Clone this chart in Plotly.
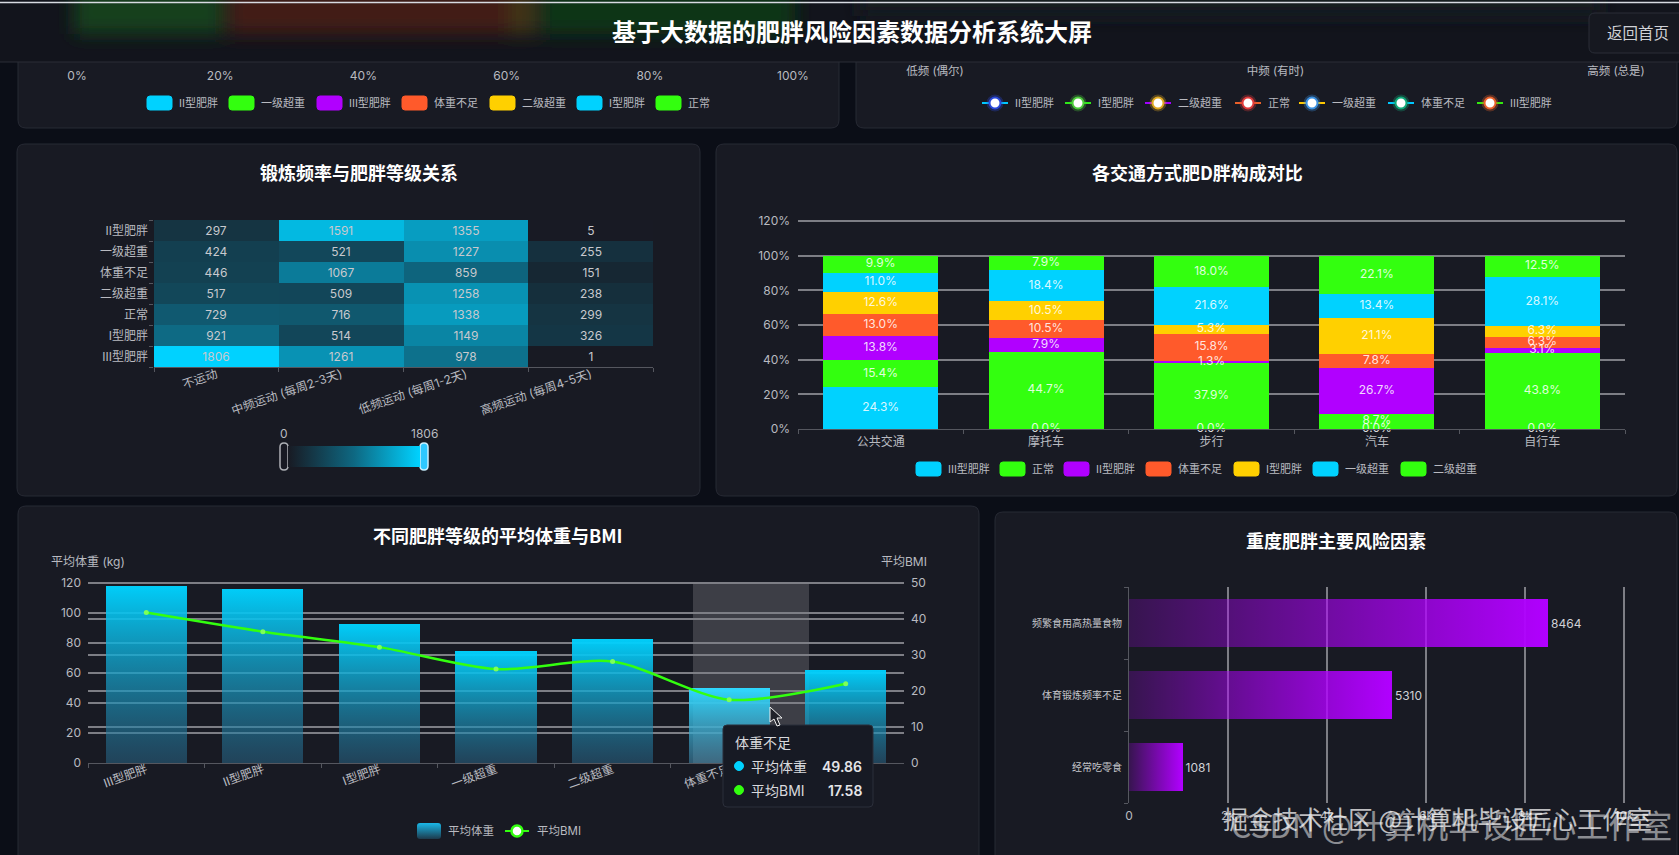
import base64

import plotly.graph_objects as go

W, H = 1679, 855
FONT = "Inter, 'Noto Sans CJK SC', sans-serif"
CJK = "'Noto Sans CJK SC', sans-serif"

PAGE_BG = "#0b0e17"
PANEL_BG = "#181a23"
PANEL_LINE = "#272a34"
TICK_TEXT = "#b9bac0"
GRID = "#7d7e85"
AXIS_LINE = "#55575f"
CYAN = "#00d2ff"
GREEN = "#33ff0f"
PURPLE = "#b100ff"
ORANGE = "#ff5a2b"
YELLOW = "#ffd000"

# 顶部两块只露出坐标轴和图例
SHARE_TICKS = [0, 20, 40, 60, 80, 100]
SHARE_LABELS = ["0%", "20%", "40%", "60%", "80%", "100%"]
SMOKE_FREQ = ["低频 (偶尔)", "中频 (有时)", "高频 (总是)"]
TOP_LEFT_LEGEND = ["II型肥胖", "一级超重", "III型肥胖", "体重不足", "二级超重", "I型肥胖", "正常"]
TOP_LEFT_COLORS = [CYAN, GREEN, PURPLE, ORANGE, YELLOW, CYAN, GREEN]
TOP_RIGHT_LEGEND = ["II型肥胖", "I型肥胖", "二级超重", "正常", "一级超重", "体重不足", "III型肥胖"]
TOP_RIGHT_LINES = ["#00c8ff", "#2fe81a", "#a000ff", "#e8602a", "#ffc800", "#00c8ff", "#33e80f"]
TOP_RIGHT_RINGS = ["#2a48d8", "#4ccc3a", "#e0a820", "#e03a3a", "#3a90e0", "#10a878", "#e8602a"]

# 锻炼频率热力图
EXERCISE = ["不运动", "中频运动 (每周2-3天)", "低频运动 (每周1-2天)", "高频运动 (每周4-5天)"]
LEVELS_HEAT = ["III型肥胖", "I型肥胖", "正常", "二级超重", "体重不足", "一级超重", "II型肥胖"]
HEAT_III = [1806, 1261, 978, 1]
HEAT_I = [921, 514, 1149, 326]
HEAT_NORMAL = [729, 716, 1338, 299]
HEAT_OVER2 = [517, 509, 1258, 238]
HEAT_UNDER = [446, 1067, 859, 151]
HEAT_OVER1 = [424, 521, 1227, 255]
HEAT_II = [297, 1591, 1355, 5]

# 交通方式堆叠柱
TRANSPORT = ["公共交通", "摩托车", "步行", "汽车", "自行车"]
STACK_NAMES = ["III型肥胖", "正常", "II型肥胖", "体重不足", "I型肥胖", "一级超重", "二级超重"]
STACK_COLORS = [CYAN, GREEN, PURPLE, ORANGE, YELLOW, CYAN, GREEN]
STACK_III = [24.3, 0.0, 0.0, 0.0, 0.0]
STACK_NORMAL = [15.4, 44.7, 37.9, 8.7, 43.8]
STACK_II = [13.8, 7.9, 1.3, 26.7, 3.1]
STACK_UNDER = [13.0, 10.5, 15.8, 7.8, 6.3]
STACK_I = [12.6, 10.5, 5.3, 21.1, 6.3]
STACK_OVER1 = [11.0, 18.4, 21.6, 13.4, 28.1]
STACK_OVER2 = [9.9, 7.9, 18.0, 22.1, 12.5]
STACK_SERIES = [STACK_III, STACK_NORMAL, STACK_II, STACK_UNDER, STACK_I, STACK_OVER1, STACK_OVER2]

# 平均体重与BMI
LEVELS_BMI = ["III型肥胖", "II型肥胖", "I型肥胖", "一级超重", "二级超重", "体重不足", "正常"]
AVG_WEIGHT = [117.8, 116.2, 92.5, 74.4, 82.4, 49.86, 61.8]
AVG_BMI = [41.8, 36.5, 32.2, 26.1, 28.2, 17.58, 22.0]

# 风险因素
RISK_NAMES = ["经常吃零食", "体育锻炼频率不足", "频繁食用高热量食物"]
RISK_VALUES = [1081, 5310, 8464]


def px_x(x):
    return x / W


def px_y(y):
    return 1 - y / H


def rounded(x0, y0, x1, y1, r, open_top=False):
    x = [px_x(v) for v in (x0, x0 + r, x1 - r, x1)]
    y = [px_y(v) for v in (y0, y0 + r, y1 - r, y1)]
    if open_top:
        return (
            f"M{x[0]},{y[0]} L{x[0]},{y[2]} Q{x[0]},{y[3]} {x[1]},{y[3]} L{x[2]},{y[3]} "
            f"Q{x[3]},{y[3]} {x[3]},{y[2]} L{x[3]},{y[0]}"
        )
    return (
        f"M{x[1]},{y[0]} L{x[2]},{y[0]} Q{x[3]},{y[0]} {x[3]},{y[1]} L{x[3]},{y[2]} "
        f"Q{x[3]},{y[3]} {x[2]},{y[3]} L{x[1]},{y[3]} Q{x[0]},{y[3]} {x[0]},{y[2]} "
        f"L{x[0]},{y[1]} Q{x[0]},{y[0]} {x[1]},{y[0]} Z"
    )


shapes = []
notes = []


def box(x0, y0, x1, y1, r, fill, line=None, width=1, layer="below", open_top=False):
    shapes.append(dict(
        type="path", xref="paper", yref="paper", layer=layer,
        path=rounded(x0, y0, x1, y1, r, open_top),
        fillcolor=fill,
        line=dict(color=line or fill, width=width),
    ))


def circle(cx, cy, r, fill, line=None, width=1, layer="above", opacity=1):
    shapes.append(dict(
        type="circle", xref="paper", yref="paper", layer=layer, opacity=opacity,
        x0=px_x(cx - r), x1=px_x(cx + r), y0=px_y(cy - r), y1=px_y(cy + r),
        fillcolor=fill, line=dict(color=line or fill, width=width),
    ))


def hline(x0, x1, y, color, width=1, layer="above"):
    shapes.append(dict(
        type="line", xref="paper", yref="paper", layer=layer,
        x0=px_x(x0), x1=px_x(x1), y0=px_y(y), y1=px_y(y),
        line=dict(color=color, width=width),
    ))


def label(x, y, text, size=12, color=TICK_TEXT, anchor="center", weight=400, family=FONT):
    notes.append(dict(
        xref="paper", yref="paper", x=px_x(x), y=px_y(y), text=text, showarrow=False,
        xanchor=anchor, yanchor="middle",
        font=dict(size=size, color=color, family=family, weight=weight),
    ))


def swatch_legend(names, colors, starts, y):
    for name, color, x in zip(names, colors, starts):
        box(x, y - 7, x + 25, y + 7, 3, color, layer="above")
        label(x + 30, y, name, size=11, anchor="left")


def axis_style(**kw):
    base = dict(
        tickfont=dict(size=12, color=TICK_TEXT, family=FONT),
        showgrid=False, zeroline=False, ticks="", showline=False,
    )
    base.update(kw)
    return base


def svg_uri(svg):
    return "data:image/svg+xml;base64," + base64.b64encode(svg.encode()).decode()


# 面板
box(18, 62, 839, 128, 8, PANEL_BG, PANEL_LINE, open_top=True)
box(856, 62, 1677, 128, 8, PANEL_BG, PANEL_LINE, open_top=True)
box(17, 144, 700, 496, 8, PANEL_BG, PANEL_LINE)
box(716, 144, 1677, 496, 8, PANEL_BG, PANEL_LINE)
box(18, 506, 979, 880, 8, PANEL_BG, PANEL_LINE)
box(995, 512, 1677, 880, 8, PANEL_BG, PANEL_LINE)

# 顶栏，后面图表模糊透出来的颜色
header_svg = f"""<svg xmlns="http://www.w3.org/2000/svg" width="{W}" height="62" viewBox="0 0 {W} 62">
<defs><filter id="b" x="-20%" y="-100%" width="140%" height="300%"><feGaussianBlur stdDeviation="9"/></filter></defs>
<rect width="{W}" height="62" fill="#12141c"/>
<g filter="url(#b)">
<rect x="74" y="-10" width="149" height="44" fill="#143f1d"/>
<rect x="228" y="-10" width="282" height="44" fill="#421b14"/>
<rect x="510" y="-10" width="26" height="44" fill="#3f3612"/>
<rect x="540" y="-10" width="255" height="44" fill="#113519"/>
<rect x="860" y="-10" width="740" height="26" fill="#161b22"/>
</g></svg>"""
images = [dict(
    source=svg_uri(header_svg), xref="paper", yref="paper", x=0, y=1, sizex=1, sizey=62 / H,
    xanchor="left", yanchor="top", sizing="stretch", layer="below",
)]
legend_svg = """<svg xmlns="http://www.w3.org/2000/svg" width="24" height="16" viewBox="0 0 24 16">
<defs><linearGradient id="g" x1="0" y1="0" x2="0" y2="1"><stop offset="0" stop-color="#1ab8e8"/><stop offset="1" stop-color="#1d3a4c"/></linearGradient></defs>
<rect width="24" height="16" rx="3" fill="url(#g)"/></svg>"""
images.append(dict(
    source=svg_uri(legend_svg), xref="paper", yref="paper", x=px_x(417), y=px_y(823),
    sizex=24 / W, sizey=16 / H, xanchor="left", yanchor="top", sizing="stretch", layer="above",
))

hline(0, W, 62, "#2a2d37", 1)
hline(0, W, 2.5, "#d8dbe2", 1.5)
label(852, 31, "基于大数据的肥胖风险因素数据分析系统大屏", size=24, color="#ffffff", weight=700, family=CJK)
box(1589, 13, 1690, 53, 6, "#161820", "#2a2d37", layer="above")
label(1638, 33, "返回首页", size=15.5, color="#d0d1d6")

label(359, 172, "锻炼频率与肥胖等级关系", size=18, color="#ffffff", weight=700, family=CJK)
label(1197, 172, "各交通方式肥D胖构成对比", size=18, color="#ffffff", weight=700, family=CJK)
label(498, 535, "不同肥胖等级的平均体重与BMI", size=18, color="#ffffff", weight=700, family=CJK)
label(1336, 540, "重度肥胖主要风险因素", size=18, color="#ffffff", weight=700, family=CJK)

swatch_legend(TOP_LEFT_LEGEND, TOP_LEFT_COLORS, [147, 229, 317, 402, 490, 577, 656], 103)
swatch_legend(STACK_NAMES, STACK_COLORS, [916, 1000, 1064, 1146, 1234, 1313, 1401], 469)

icon_x = [995, 1078, 1158, 1248, 1312, 1401, 1490]
for name, line_c, ring, cx in zip(TOP_RIGHT_LEGEND, TOP_RIGHT_LINES, TOP_RIGHT_RINGS, icon_x):
    hline(cx - 13, cx + 13, 103, line_c, 2)
    circle(cx, 103, 8, ring, opacity=0.3)
    circle(cx, 103, 5.5, "#ffffff", ring, 2)
    label(cx + 18, 103, name, size=11, anchor="left")

# 视觉映射滑块
label(284, 433, "0", size=12)
label(424, 433, "1806", size=12)
box(280, 443, 288, 470, 4, "rgba(24,26,35,0.2)", "#aeb0b6", 1.5, layer="above")
box(420, 443, 428, 470, 4, "#2ec8ff", "#c8f0ff", 1.5, layer="above")

# 悬浮态的背景条和提示框
shapes.append(dict(
    type="rect", xref="paper", yref="paper", layer="below",
    x0=px_x(693), x1=px_x(809), y0=px_y(763), y1=px_y(583),
    fillcolor="rgba(255,255,255,0.16)", line=dict(width=0),
))
box(723, 725, 873, 807, 4, "#171a24", "#2b2f3a", layer="above")
label(733, 742, "体重不足", size=14, color="#d8d9dd", anchor="left")
circle(739, 766, 4.5, CYAN)
label(749, 766, "平均体重", size=14, color="#d8d9dd", anchor="left")
label(864, 766, "49.86", size=14, color="#e4e5e8", anchor="right", weight=600)
circle(739, 790, 4.5, GREEN)
label(749, 790, "平均BMI", size=14, color="#d8d9dd", anchor="left")
label(864, 790, "17.58", size=14, color="#e4e5e8", anchor="right", weight=600)

cursor = [(770, 707), (770, 722), (774, 719), (777, 726), (780, 725), (777, 718), (782, 718)]
shapes.append(dict(
    type="path", xref="paper", yref="paper", layer="above",
    path="M" + " L".join(f"{px_x(a)},{px_y(b)}" for a, b in cursor) + " Z",
    fillcolor="#20222a", line=dict(color="#f0f0f0", width=1),
))

# 组合图图例和轴名
label(446, 831, "平均体重", size=11.5, anchor="left")
hline(505, 529, 831, GREEN, 2)
circle(517, 831, 5.5, "#ffffff", GREEN, 2.5)
label(535, 831, "平均BMI", size=11.5, anchor="left")
label(88, 561, "平均体重 (kg)", size=12)
label(904, 561, "平均BMI", size=12)

# 水印
label(1437, 818, "掘金技术社区 @计算机毕设匠心工作室", size=25, color="rgba(255,255,255,0.72)", family=CJK)
label(1451, 824, "CSDN @计算机毕设匠心工作室", size=32, color="rgba(255,255,255,0.5)", family=CJK)

fig = go.Figure()

# 顶部两块的占位
fig.add_trace(go.Bar(x=[], y=[], xaxis="x", yaxis="y", showlegend=False))
fig.add_trace(go.Scatter(x=SMOKE_FREQ, y=[None] * 3, xaxis="x2", yaxis="y2", showlegend=False))

fig.add_trace(go.Heatmap(
    x=EXERCISE, y=LEVELS_HEAT,
    z=[HEAT_III, HEAT_I, HEAT_NORMAL, HEAT_OVER2, HEAT_UNDER, HEAT_OVER1, HEAT_II],
    zmin=0, zmax=1806,
    colorscale=[[0, "rgb(24,26,35)"], [0.5, "rgb(14,104,130)"], [1, "rgb(0,210,255)"]],
    texttemplate="%{z}", textfont=dict(size=12, color="#c8c9ce", family=FONT),
    xaxis="x3", yaxis="y3",
    colorbar=dict(
        orientation="h", x=px_x(288), xanchor="left", y=px_y(467), yanchor="bottom",
        len=132, lenmode="pixels", thickness=21, thicknessmode="pixels",
        xpad=0, ypad=0, outlinewidth=0, ticks="", showticklabels=False,
    ),
))

stack_base = [0.0] * len(TRANSPORT)
label_x, label_y, label_text = [], [], []
for name, color, values in zip(STACK_NAMES, STACK_COLORS, STACK_SERIES):
    fig.add_trace(go.Bar(
        x=TRANSPORT, y=values, name=name, marker=dict(color=color, line=dict(width=0)),
        xaxis="x4", yaxis="y4", showlegend=False,
    ))
    for i, v in enumerate(values):
        label_x.append(TRANSPORT[i])
        label_y.append(stack_base[i] + v / 2)
        label_text.append(f"{v:.1f}%")
        stack_base[i] += v

# 数字要压在所有柱子上面，单独一层
fig.add_trace(go.Scatter(
    x=label_x, y=label_y, text=label_text, mode="text", textposition="middle center",
    textfont=dict(size=12, color="rgba(255,255,255,0.86)", family=FONT), cliponaxis=False,
    xaxis="x4", yaxis="y4", showlegend=False,
))

fig.add_trace(go.Bar(
    x=LEVELS_BMI, y=AVG_WEIGHT, name="平均体重", marker=dict(color=CYAN, line=dict(width=0)),
    xaxis="x5", yaxis="y5", showlegend=False,
))
fig.add_trace(go.Scatter(
    x=LEVELS_BMI, y=AVG_BMI, name="平均BMI", mode="lines+markers",
    line=dict(color=GREEN, width=2.5, shape="spline", smoothing=0.8),
    marker=dict(size=5, color="#7dff5a"),
    xaxis="x5", yaxis="y6", showlegend=False,
))

fig.add_trace(go.Bar(
    x=RISK_VALUES, y=RISK_NAMES, orientation="h", marker=dict(color=PURPLE, line=dict(width=0)),
    text=RISK_VALUES, textposition="outside", cliponaxis=False,
    outsidetextfont=dict(size=12, color="#d0d1d6", family=FONT),
    xaxis="x6", yaxis="y7", showlegend=False,
))

# 范围多留一点，否则 plotly 会去掉贴边的那条网格线
fig.update_layout(
    width=W, height=H, margin=dict(l=0, r=0, t=0, b=0, autoexpand=False),
    paper_bgcolor=PAGE_BG, plot_bgcolor="rgba(0,0,0,0)",
    font=dict(family=FONT, color=TICK_TEXT),
    barmode="stack", showlegend=False, hovermode="closest",
    shapes=shapes, annotations=notes, images=images,

    xaxis=axis_style(domain=[px_x(77), px_x(793)], range=[0, 100], tickvals=SHARE_TICKS,
                     ticktext=SHARE_LABELS, tickfont=dict(size=12, color=TICK_TEXT), anchor="y", ticklen=0),
    yaxis=axis_style(domain=[px_y(67), px_y(62)], showticklabels=False, anchor="x"),

    xaxis2=axis_style(domain=[px_x(935), px_x(1616)], type="category", range=[0, 2],
                      tickfont=dict(size=11.5, color=TICK_TEXT), anchor="y2"),
    yaxis2=axis_style(domain=[px_y(62), px_y(60)], showticklabels=False, anchor="x2"),

    xaxis3=axis_style(domain=[px_x(154), px_x(653)], tickangle=-19, tickson="boundaries",
                      ticks="outside", ticklen=4, tickcolor=AXIS_LINE, showline=True, linecolor=AXIS_LINE,
                      anchor="y3", type="category", tickfont=dict(size=12, color=TICK_TEXT),
                      ticklabelstandoff=-5),
    yaxis3=axis_style(domain=[px_y(367), px_y(220)], tickson="boundaries", ticks="outside", ticklen=4,
                      tickcolor=AXIS_LINE, anchor="x3", type="category",
                      tickfont=dict(size=12, color=TICK_TEXT), ticklabelstandoff=5),

    xaxis4=axis_style(domain=[px_x(798), px_x(1625)], tickson="boundaries", ticks="outside", ticklen=4,
                      tickcolor=AXIS_LINE, showline=True, linecolor=AXIS_LINE, anchor="y4", type="category",
                      ticklabelstandoff=2),
    yaxis4=axis_style(domain=[px_y(429), px_y(219)], range=[0, 121.2], dtick=20, ticksuffix="%",
                      showgrid=True, gridcolor=GRID, gridwidth=1.5, anchor="x4", ticklabelstandoff=7),

    xaxis5=axis_style(domain=[px_x(88), px_x(904)], tickson="boundaries", ticks="outside", ticklen=4,
                      tickcolor=AXIS_LINE, showline=True, linecolor=AXIS_LINE, anchor="y5", type="category",
                      tickangle=-20, ticklabelstandoff=-6),
    yaxis5=axis_style(domain=[px_y(763), px_y(581)], range=[0, 121.4], dtick=20,
                      showgrid=True, gridcolor=GRID, gridwidth=1.5, anchor="x5", ticklabelstandoff=6),
    yaxis6=axis_style(domain=[px_y(763), px_y(581)], range=[0, 50.58], dtick=10, overlaying="y5", side="right",
                      showgrid=True, gridcolor=GRID, gridwidth=1.5, anchor="x5", ticklabelstandoff=6),

    xaxis6=axis_style(domain=[px_x(1129), px_x(1629)], range=[0, 10100], dtick=2000,
                      showgrid=True, gridcolor=GRID, gridwidth=1.5, anchor="y7", ticklabelstandoff=4),
    yaxis7=axis_style(domain=[px_y(803), px_y(587)], tickson="boundaries", ticks="outside", ticklen=4,
                      tickcolor=AXIS_LINE, showline=True, linecolor=AXIS_LINE, anchor="x6", type="category",
                      tickfont=dict(size=10, color="#c4c5ca", family=CJK), ticklabelstandoff=4),
)
fig.update_traces(selector=dict(xaxis="x4", type="bar"), width=0.695)
fig.update_traces(selector=dict(xaxis="x5", type="bar"), width=0.695)
fig.update_traces(selector=dict(xaxis="x6"), width=0.68)

# plotly 的柱子没有渐变，页面画好后换成 svg 渐变
post_script = """
document.body.style.margin = '0';
document.body.style.background = '#0b0e17';
var svg = document.querySelector('.main-svg');
var defs = svg.querySelector('defs');
function grad(id, x2, y2, stops) {
  var g = document.createElementNS('http://www.w3.org/2000/svg', 'linearGradient');
  g.setAttribute('id', id);
  g.setAttribute('x1', 0); g.setAttribute('y1', 0);
  g.setAttribute('x2', x2); g.setAttribute('y2', y2);
  stops.forEach(function (s) {
    var st = document.createElementNS('http://www.w3.org/2000/svg', 'stop');
    st.setAttribute('offset', s[0]);
    st.setAttribute('stop-color', s[1]);
    st.setAttribute('stop-opacity', s[2]);
    g.appendChild(st);
  });
  defs.appendChild(g);
}
grad('weightBar', 0, 1, [[0, '#00d2ff', 0.97], [1, '#2a6c90', 0.5]]);
grad('weightHover', 0, 1, [[0, '#2fd8ff', 1], [1, '#3f8cb0', 0.55]]);
grad('riskBar', 1, 0, [[0, '#b100ff', 0.2], [1, '#b100ff', 1]]);
document.querySelectorAll('.subplot.x5y5 .bars .point path').forEach(function (p, i) {
  p.style.fill = i === 5 ? 'url(#weightHover)' : 'url(#weightBar)';
  p.style.fillOpacity = 1;
});
document.querySelectorAll('.subplot.x6y7 .bars .point path').forEach(function (p) {
  p.style.fill = 'url(#riskBar)';
  p.style.fillOpacity = 1;
});
"""

fig.write_html("out.html", post_script=post_script, config={"displayModeBar": False})
